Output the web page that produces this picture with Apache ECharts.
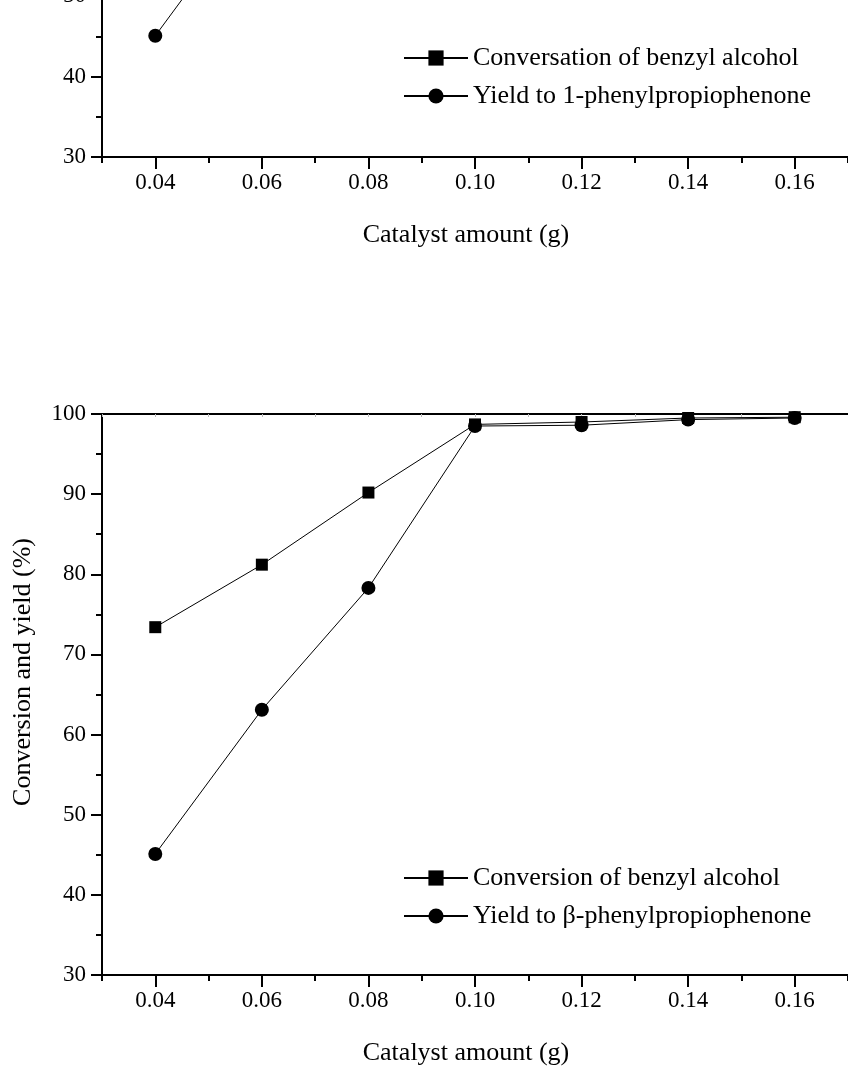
<!DOCTYPE html>
<html>
<head>
<meta charset="utf-8">
<script src="https://cdn.jsdelivr.net/npm/echarts@6/dist/echarts.min.js"></script>
<style>
html,body{margin:0;padding:0;background:#fff;overflow:hidden;}
#wrap{position:relative;width:848px;height:1067px;overflow:hidden;}
#c{position:absolute;left:0;top:-460px;width:848px;height:1527px;}
</style>
</head>
<body>
<div id="wrap"><div id="c"></div></div>
<script>
// ---- data ----
var catalystAmount = [0.04, 0.06, 0.08, 0.10, 0.12, 0.14, 0.16];
var conversion = [73.4, 81.2, 90.2, 98.7, 99.0, 99.5, 99.6];
var yieldVals = [45.1, 63.1, 78.3, 98.5, 98.6, 99.3, 99.5];
var xLabelValues = [0.04, 0.06, 0.08, 0.10, 0.12, 0.14, 0.16];
var topNames = ['Conversation of benzyl alcohol', 'Yield to 1-phenylpropiophenone'];
var bottomNames = ['Conversion of benzyl alcohol', 'Yield to \u03b2-phenylpropiophenone'];
var xTitle = 'Catalyst amount (g)';
var yTitle = 'Conversion and yield (%)';

function pairs(xs, ys){ return xs.map(function(x,i){ return [x, ys[i]]; }); }

var FONT = 'Liberation Serif, Times New Roman, serif';
var OFF = 460; // the canvas starts 460px above the visible page (top chart is cropped)
var chart = echarts.init(document.getElementById('c'), null, {renderer:'canvas'});

var grids = [
  {left:102, top:-405 + OFF, width:756, height:562},
  {left:102, top:414 + OFF, width:756, height:562}
];

function bottomX(gi){
  return {
    type:'value', gridIndex:gi, position:'bottom', min:0.03, max:0.17, interval:0.02,
    axisLine:{show:true, onZero:false, lineStyle:{color:'#000', width:2}},
    axisTick:{show:true, inside:false, length:6, lineStyle:{color:'#000', width:2}},
    minorTick:{show:true, splitNumber:2, length:12, lineStyle:{color:'#000', width:2}},
    axisLabel:{show:true, customValues:xLabelValues, margin:14, color:'#000', fontFamily:FONT, fontSize:23,
      formatter:function(v){ return v.toFixed(2); }},
    splitLine:{show:false}, minorSplitLine:{show:false},
    name:xTitle, nameLocation:'middle', nameGap:65,
    nameTextStyle:{color:'#000', fontFamily:FONT, fontSize:26, padding:[0,18,0,0]}
  };
}
function topX(gi){
  return {
    type:'value', gridIndex:gi, position:'top', min:0.03, max:0.17, interval:0.01,
    axisLine:{show:true, onZero:false, lineStyle:{color:'#000', width:2}},
    axisTick:{show:true, inside:true, length:3, lineStyle:{color:'#bbb', width:1}},
    axisLabel:{show:false}, splitLine:{show:false}
  };
}
function leftY(gi){
  return {
    type:'value', gridIndex:gi, min:30, max:100, interval:10,
    axisLine:{show:true, onZero:false, lineStyle:{color:'#000', width:2}},
    axisTick:{show:true, inside:false, length:11, lineStyle:{color:'#000', width:2}},
    minorTick:{show:true, splitNumber:2, length:6, lineStyle:{color:'#000', width:2}},
    axisLabel:{margin:16, color:'#000', fontFamily:FONT, fontSize:23},
    splitLine:{show:false}, minorSplitLine:{show:false},
    name:yTitle, nameLocation:'middle', nameGap:66,
    nameTextStyle:{color:'#000', fontFamily:FONT, fontSize:26, padding:[0,0,0,45]}
  };
}

function mkSeries(name, data, symbol, size, xi, yi){
  return {
    type:'line', name:name, data:data, xAxisIndex:xi, yAxisIndex:yi,
    symbol:symbol, symbolSize:size, showSymbol:true,
    lineStyle:{color:'#000', width:1}, itemStyle:{color:'#000'},
    emphasis:{disabled:true}, animation:false, clip:true
  };
}

var legendCommon = {
  orient:'vertical', left:398, itemWidth:64, itemHeight:19, itemGap:12,
  textStyle:{color:'#000', fontFamily:FONT, fontSize:26},
  selectedMode:false, inactiveColor:'#000'
};

chart.setOption({
  backgroundColor:'#fff',
  animation:false,
  grid:grids,
  xAxis:[bottomX(0), topX(0), bottomX(1), topX(1)],
  yAxis:[leftY(0), leftY(1)],
  legend:[
    Object.assign({}, legendCommon, {top:40 + OFF, data:topNames}),
    Object.assign({}, legendCommon, {top:860 + OFF, data:bottomNames})
  ],
  series:[
    mkSeries(topNames[0], pairs(catalystAmount, conversion), 'rect', 12, 0, 0),
    mkSeries(topNames[1], pairs(catalystAmount, yieldVals), 'circle', 14, 0, 0),
    mkSeries(bottomNames[0], pairs(catalystAmount, conversion), 'rect', 12, 2, 1),
    mkSeries(bottomNames[1], pairs(catalystAmount, yieldVals), 'circle', 14, 2, 1)
  ]
});
</script>
</body>
</html>
